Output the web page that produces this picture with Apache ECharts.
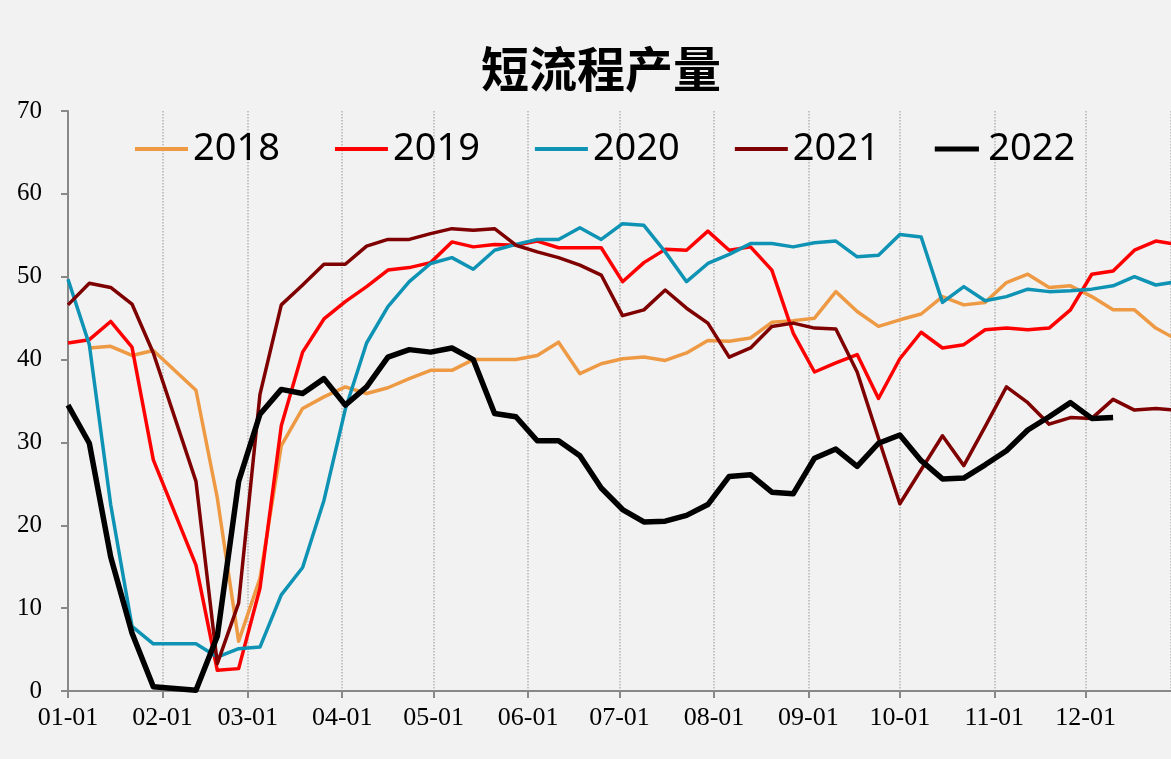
<!DOCTYPE html>
<html>
<head>
    <meta charset="UTF-8">
    <title>短流程产量</title>
    <style>
        html, body { margin: 0; padding: 0; background: #f2f2f2; }
    </style>
</head>
<body>
<div id="main" style="width:1171px;height:759px"></div>
<script src="https://cdn.jsdelivr.net/npm/echarts@6/dist/echarts.min.js"></script>
<script type="text/javascript">
// weekly sample dates (all years drawn on one calendar year)
var weeks = ['01-01','01-08','01-15','01-22','01-29','02-05','02-12','02-19','02-26','03-05',
    '03-12','03-19','03-26','04-02','04-09','04-16','04-23','04-30','05-07','05-14',
    '05-21','05-28','06-04','06-11','06-18','06-25','07-02','07-09','07-16','07-23',
    '07-30','08-06','08-13','08-20','08-27','09-03','09-10','09-17','09-24','10-01',
    '10-08','10-15','10-22','10-29','11-05','11-12','11-19','11-26','12-03','12-10',
    '12-17','12-24','12-31'];

var years = ['2018', '2019', '2020', '2021', '2022'];
var colors = ['#ee9a45', '#ff0000', '#0f93b5', '#7f0000', '#000000'];

var y2018 = [null, 41.4, 41.6, 40.5, 41.1, null, 36.3, 23.3, 6.0, 13.6,
    29.6, 34.1, 35.5, 36.7, 35.9, 36.6, 37.7, 38.7, 38.7, 40.0,
    40.0, 40.0, 40.5, 42.1, 38.3, 39.5, 40.1, 40.3, 39.9, 40.8,
    42.3, 42.2, 42.6, 44.5, 44.7, 45.0, 48.2, 45.8, 44.0, 44.8,
    45.5, 47.6, 46.6, 46.9, 49.3, 50.3, 48.7, 48.9, 47.6, 46.0,
    46.0, 43.8, 42.4];
var y2019 = [42.0, 42.4, 44.6, 41.5, 27.9, null, 15.2, 2.5, 2.7, 12.4,
    32.0, 40.9, 44.9, 47.0, 48.8, 50.8, 51.1, 51.7, 54.2, 53.6,
    53.9, 53.8, 54.3, 53.5, 53.5, 53.5, 49.4, 51.7, 53.3, 53.2,
    55.5, 53.2, 53.6, 50.8, 43.2, 38.5, 39.6, 40.6, 35.3, 40.1,
    43.3, 41.4, 41.8, 43.6, 43.8, 43.6, 43.8, 46.0, 50.3, 50.7,
    53.2, 54.3, 53.9];
var y2020 = [49.7, 41.8, 22.5, 7.8, 5.7, 5.7, 5.7, 4.1, 5.1, 5.3,
    11.6, 14.9, 23.0, 34.0, 42.0, 46.4, 49.4, 51.6, 52.3, 50.9,
    53.2, 53.9, 54.5, 54.5, 55.9, 54.5, 56.4, 56.2, 53.0, 49.4,
    51.6, 52.7, 54.0, 54.0, 53.6, 54.1, 54.3, 52.4, 52.6, 55.1,
    54.8, 46.9, 48.8, 47.1, 47.6, 48.5, 48.2, 48.3, 48.5, 48.9,
    50.0, 49.0, 49.4];
var y2021 = [46.6, 49.2, 48.7, 46.7, 40.8, null, 25.3, 3.3, 10.6, 35.8,
    46.6, 49.0, 51.5, 51.5, 53.7, 54.5, 54.5, 55.2, 55.8, 55.6,
    55.8, 53.8, 53.0, 52.3, 51.4, 50.2, 45.3, 46.0, 48.4, 46.2,
    44.4, 40.3, 41.4, 44.0, 44.4, 43.8, 43.7, 38.5, 30.5, 22.6,
    26.7, 30.8, 27.2, 31.9, 36.7, 34.8, 32.2, 33.0, 32.9, 35.2,
    33.9, 34.1, 33.9];
var y2022 = [34.5, 29.9, 16.2, 7.0, 0.5, null, 0.1, 6.6, 25.3, 33.4,
    36.4, 35.9, 37.7, 34.5, 36.7, 40.3, 41.2, 40.9, 41.4, 40.0,
    33.5, 33.1, 30.2, 30.2, 28.4, 24.5, 21.9, 20.4, 20.5, 21.2,
    22.5, 25.9, 26.1, 24.0, 23.8, 28.1, 29.2, 27.1, 29.9, 30.9,
    27.8, 25.6, 25.7, 27.3, 29.0, 31.5, 33.1, 34.8, 32.9, 33.0];

var yValues = [y2018, y2019, y2020, y2021, y2022];

function pairs(vals) {
    var out = [];
    for (var i = 0; i < vals.length; i++) {
        out.push(['2022-' + weeks[i], vals[i] === null ? '-' : vals[i]]);
    }
    return out;
}

var series = [];
var legendData = [];
for (var i = 0; i < years.length; i++) {
    series.push({
        name: years[i],
        type: 'line',
        data: pairs(yValues[i]),
        symbol: 'none',
        showSymbol: false,
        connectNulls: true,
        z: 2 + i,
        lineStyle: {
            color: colors[i],
            width: i === 4 ? 5.5 : 3.5,
            join: 'round'
        },
        itemStyle: { color: colors[i] }
    });
    legendData.push({
        name: years[i],
        icon: i === 4 ? 'path://M0,0 L53,0 L53,6 L0,6 Z' : 'path://M0,0 L53,0 L53,4 L0,4 Z'
    });
}

var option = {
    backgroundColor: '#f2f2f2',
    animation: false,
    title: {
        text: '短流程产量',
        left: 481,
        top: 45,
        padding: 0,
        textStyle: {
            fontFamily: 'Noto Sans CJK SC',
            fontSize: 48,
            fontWeight: 'bold',
            color: '#000'
        }
    },
    legend: {
        data: legendData,
        left: 130,
        top: 125,
        itemWidth: 53,
        itemHeight: 5,
        itemGap: 55,
        textStyle: {
            fontFamily: 'Noto Sans',
            fontSize: 38,
            color: '#000'
        }
    },
    grid: {
        left: 68,
        right: 0,
        top: 111,
        bottom: 68
    },
    xAxis: {
        type: 'time',
        min: '2022-01-01',
        max: '2022-12-29',
        splitNumber: 12,
        axisLine: { lineStyle: { color: '#888', width: 2 } },
        axisTick: { show: true, length: 7, lineStyle: { color: '#888', width: 2 } },
        axisLabel: {
            formatter: '{MM}-{dd}',
            fontFamily: 'Liberation Serif',
            fontSize: 26,
            color: '#000',
            margin: 14,
            showMinLabel: true,
            hideOverlap: false
        },
        splitLine: {
            show: true,
            lineStyle: { color: '#b4b4b4', type: 'dotted', width: 1.5 }
        }
    },
    yAxis: {
        type: 'value',
        min: 0,
        max: 70,
        interval: 10,
        axisLine: { show: true, lineStyle: { color: '#888', width: 2 } },
        axisTick: { show: true, length: 7, lineStyle: { color: '#888', width: 2 } },
        axisLabel: {
            fontFamily: 'Liberation Serif',
            fontSize: 25,
            color: '#000',
            margin: 26
        },
        splitLine: { show: false }
    },
    series: series
};

var myChart = echarts.init(document.getElementById('main'));
myChart.setOption(option);
</script>
</body>
</html>
